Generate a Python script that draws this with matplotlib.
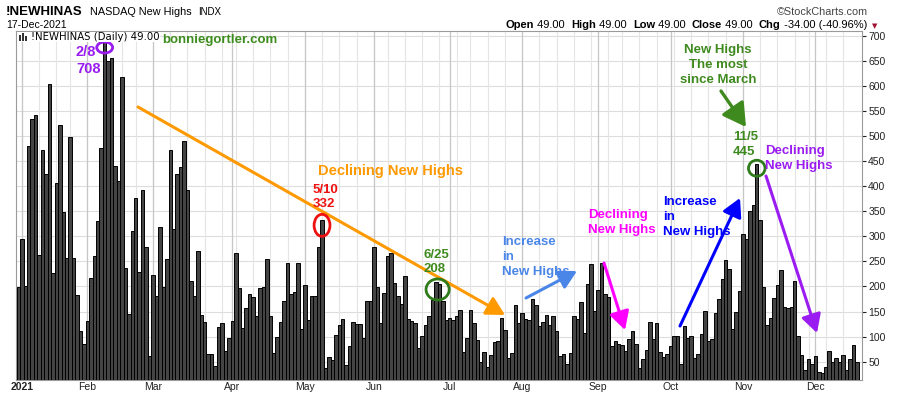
import numpy as np
import pandas as pd
import matplotlib
matplotlib.use("Agg")
import matplotlib.pyplot as plt
from matplotlib.patches import Ellipse, Rectangle
from matplotlib.offsetbox import TextArea, HPacker, AnnotationBbox

plt.rcParams["font.family"] = ["Liberation Sans", "DejaVu Sans"]

# NASDAQ new highs (!NEWHINAS), daily, one list per month
dec_2020 = [198]
jan = [294, 201, 480, 534, 542, 263, 472, 425, 604, 226, 407, 522, 348, 256, 498, 257, 182, 112, 85]
feb = [132, 216, 260, 330, 477, 708, 651, 656, 440, 410, 618, 236, 146, 311, 377, 229, 393, 278, 61]
mar = [223, 180, 319, 199, 254, 472, 315, 425, 438, 490, 393, 211, 180, 271, 143, 129, 65, 65, 41,
       119, 127, 71, 97]
apr = [132, 266, 196, 117, 158, 185, 178, 142, 197, 199, 255, 142, 67, 99, 129, 171, 247, 185, 189, 247, 115]
may = [203, 133, 181, 181, 279, 332, 37, 59, 53, 103, 123, 135, 43, 81, 129, 125, 125, 97, 171, 171]
jun = [279, 199, 127, 187, 261, 267, 207, 181, 165, 221, 135, 131, 127, 77, 101, 123, 141, 173, 208, 205,
       172, 134]
jul = [137, 133, 141, 153, 69, 97, 153, 127, 93, 49, 69, 39, 63, 89, 91, 137, 113, 57, 67, 163, 127]
aug = [147, 135, 133, 175, 163, 121, 129, 143, 123, 141, 111, 61, 65, 45, 67, 141, 135, 169, 107, 205, 245, 151]
sep = [193, 247, 185, 179, 81, 91, 85, 83, 71, 95, 111, 85, 37, 55, 73, 129, 95, 127, 69, 59, 65]
oct_ = [81, 101, 101, 45, 121, 97, 101, 57, 65, 105, 151, 91, 95, 147, 175, 215, 253, 235, 115, 149, 191]
nov = [305, 295, 351, 363, 445, 333, 199, 123, 137, 177, 203, 233, 159, 158, 160, 211, 101, 63, 33, 55, 45]
dec = [61, 29, 27, 40, 71, 49, 57, 49, 63, 33, 55, 83, 49]

holidays = ["2021-01-01", "2021-01-18", "2021-02-15", "2021-04-02",
            "2021-05-31", "2021-07-05", "2021-09-06", "2021-11-25"]
month_names = ["2021", "Feb", "Mar", "Apr", "May", "Jun", "Jul", "Aug", "Sep", "Oct", "Nov", "Dec"]
y_ticks = list(range(50, 701, 50))

values = dec_2020 + jan + feb + mar + apr + may + jun + jul + aug + sep + oct_ + nov + dec
dates = pd.bdate_range("2020-12-31", "2021-12-17", freq="C", holidays=holidays)
x = np.arange(len(values))

months = dates.month.values
month_starts = [i for i in range(1, len(dates)) if months[i] != months[i - 1]]
weeks = dates.isocalendar().week.values
week_starts = [i for i in range(1, len(dates)) if weeks[i] != weeks[i - 1]]

W, H = 900, 396


def fx(px):
    return px / W


def fy(py):
    return 1 - py / H


fig = plt.figure(figsize=(W / 100, H / 100), dpi=100)
ax = fig.add_axes([fx(16), fy(380), 846 / W, 349 / H])

ax.bar(x, values, width=1.0, color="#444444", edgecolor="black", linewidth=0.7, zorder=3)
ax.set_xlim(-0.7, 244.5)
ax.set_ylim(13.3, 710)

# weekly and monthly grid lines
for i in week_starts:
    ax.axvline(i, color="#e4e4e4", lw=0.8, zorder=1)
for i in month_starts:
    ax.axvline(i, color="#c6c6c6", lw=0.9, zorder=1)
ax.set_yticks(y_ticks)
ax.yaxis.tick_right()
ax.grid(axis="y", color="#dddddd", lw=0.8, zorder=0)
ax.set_axisbelow(True)

ax.tick_params(axis="y", length=3, pad=1.5, labelsize=7.5, colors="#222222")
ax.set_xticks(month_starts)
ax.set_xticklabels(month_names)
ax.tick_params(axis="x", length=0, pad=1.5, labelsize=7.5, colors="#222222")
ax.get_xticklabels()[0].set_fontweight("bold")
for s in ax.spines.values():
    s.set_color("#9a9a9a")
    s.set_linewidth(0.8)

# header
fig.text(fx(6), fy(15), "!NEWHINAS", fontsize=9.5, weight="bold", va="baseline")
fig.text(fx(90), fy(15), "NASDAQ New Highs", fontsize=7.8, va="baseline")
fig.text(fx(198), fy(15), "INDX", fontsize=7, va="baseline")
fig.text(fx(6), fy(28), "17-Dec-2021", fontsize=7.5, va="baseline")
fig.text(fx(868), fy(15), "\u00a9StockCharts.com", fontsize=7.8, color="#444444", ha="right", va="baseline")

parts = [("Open", True), (" 49.00  ", False), ("High", True), (" 49.00  ", False),
         ("Low", True), (" 49.00  ", False), ("Close", True), (" 49.00  ", False),
         ("Chg", True), (" -34.00 (-40.96%)", False)]
boxes = [TextArea(t, textprops=dict(fontsize=8, weight="bold" if b else "normal")) for t, b in parts]
ohlc = HPacker(children=boxes, align="baseline", pad=0, sep=0)
fig.add_artist(AnnotationBbox(ohlc, (fx(867), fy(30)), xycoords="figure fraction",
                              box_alignment=(1, 0), frameon=False, pad=0))
fig.text(fx(872), fy(28), "\u25bc", fontsize=5, color="#a01030", family=["DejaVu Sans"], va="baseline")

# legend inside the plot (white box hides the top of the tallest bar)
fig.add_artist(Rectangle((fx(17), fy(42)), (160 - 17) / W, 10 / H, transform=fig.transFigure,
                         facecolor="white", edgecolor="none", zorder=1))
for bx, by, bh in [(19, 35, 6), (22, 33, 8), (25, 36, 5)]:
    fig.add_artist(Rectangle((fx(bx), fy(by + bh)), 2 / W, bh / H, transform=fig.transFigure,
                             facecolor="#333333", edgecolor="none", zorder=2))
fig.text(fx(31), fy(40), "!NEWHINAS (Daily) 49.00", fontsize=7.3, family=["DejaVu Sans"],
         va="baseline", zorder=3)
fig.text(fx(162), fy(43), "bonniegortler.com", fontsize=9.5, weight="bold", color="#3c8c1e", va="baseline")


def note(lines, px, py, color, size=9.5, step=15, ha="left"):
    for k, line in enumerate(lines):
        fig.text(fx(px), fy(py + k * step), line, color=color, fontsize=size, weight="bold",
                 ha=ha, va="baseline", zorder=6)


def arrow(x0, y0, x1, y1, color, lw=2.2, hl=0.55, hw=0.3, scale=20):
    ax.annotate("", xy=(x1, H - y1), xytext=(x0, H - y0), xycoords="figure pixels",
                textcoords="figure pixels", zorder=5,
                arrowprops=dict(arrowstyle=f"-|>,head_length={hl},head_width={hw}", color=color,
                                lw=lw, shrinkA=0, shrinkB=0, mutation_scale=scale))


purple = "#9a1cf0"
orange = "#ff9900"
green = "#3f8a1f"

note(["2/8", "708"], 76, 56.5, purple, size=10.5, step=16.5)
note(["Declining New Highs"], 318, 174.5, orange, size=10.5)
note(["5/10", "332"], 313, 192.5, "#ee1111", step=14)
note(["6/25", "208"], 424, 258, green, step=14.5)
note(["Increase", "in", "New Highs"], 502, 245, "#4a86e8")
note(["Declining", "New Highs"], 588, 218, "#ff00ff")
note(["Increase", "in", "New Highs"], 663, 205, "#0000ff")
note(["New Highs", "The most", "since March"], 718, 53, green, ha="center")
note(["11/5", "445"], 733, 140, green)
note(["Declining", "New Highs"], 765, 154, purple, step=14.5)

arrow(138, 107, 505, 315, orange)
arrow(526, 298, 577, 271, "#4a86e8")
arrow(604, 263, 625, 330, "#ff00ff")
arrow(680, 326, 740, 198, "#0000ff")
arrow(721, 91, 746, 127, green, lw=2.4, hl=0.7, hw=0.4)
arrow(766, 176, 817, 333, purple)

# circles round the highlighted days
i_feb8 = dates.get_loc(pd.Timestamp("2021-02-08"))
i_may10 = dates.get_loc(pd.Timestamp("2021-05-10"))
i_jun25 = dates.get_loc(pd.Timestamp("2021-06-25"))
i_nov5 = dates.get_loc(pd.Timestamp("2021-11-05"))
rings = [((i_feb8, values[i_feb8] - 31), 4.6, 22, purple),
         ((i_may10, values[i_may10] - 10), 4.6, 44, "#ee1111"),
         ((i_jun25 + 0.5, values[i_jun25] - 14), 6.7, 42, "#2f7a1a"),
         ((i_nov5, values[i_nov5] - 9), 4.8, 32, "#2f7a1a")]
for center, w, h, c in rings:
    ax.add_patch(Ellipse(center, w, h, fill=False, edgecolor=c, lw=2, zorder=6, clip_on=False))

fig.savefig("out.png", dpi=100)
